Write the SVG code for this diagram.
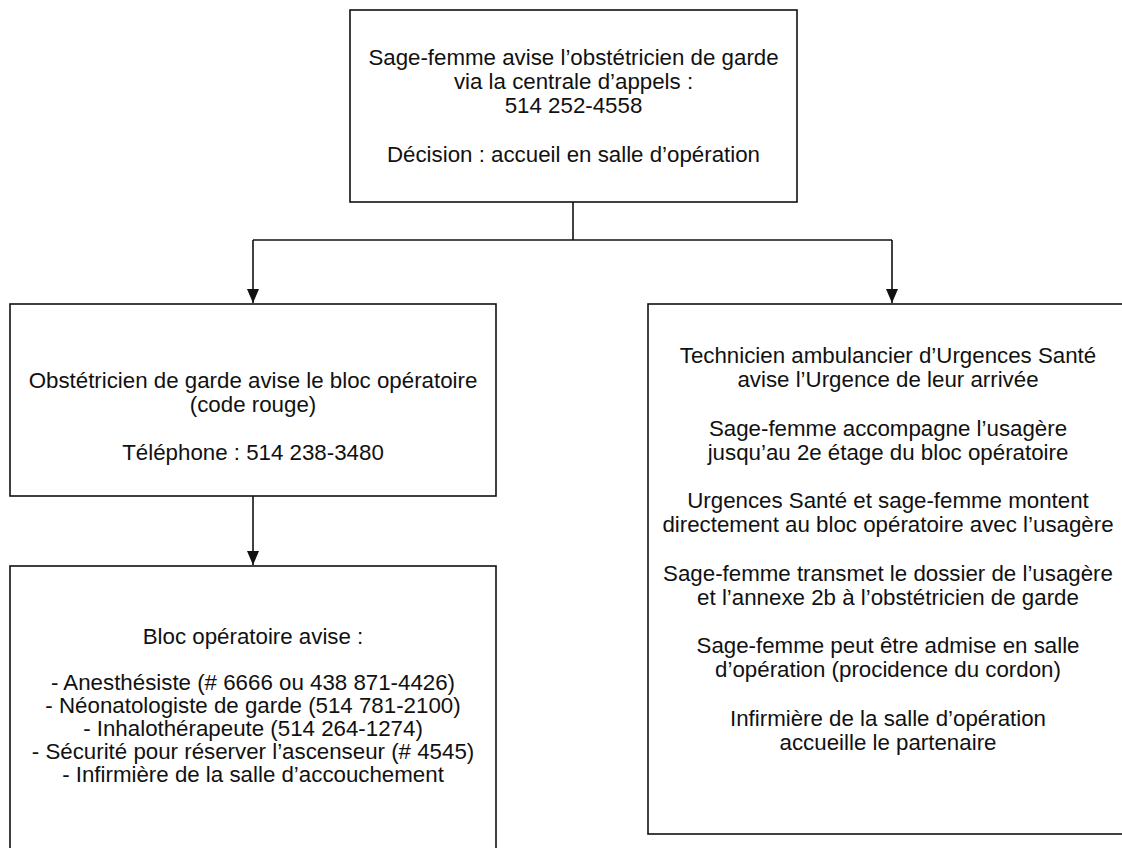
<svg xmlns="http://www.w3.org/2000/svg" width="1122" height="848" viewBox="0 0 1122 848">
<defs>
<style>
.box{fill:#fff;stroke:#111;stroke-width:1.6}
.t{font-family:"Liberation Sans",Arial,sans-serif;font-size:22.3px;fill:#111;text-anchor:middle}
.c{fill:none;stroke:#111;stroke-width:1.6}
</style>
<marker id="ah" markerWidth="14" markerHeight="14" refX="14" refY="7" orient="auto" markerUnits="userSpaceOnUse">
<path d="M0,1 L14,7 L0,13 Z" fill="#111"/>
</marker>
</defs>
<rect width="1122" height="848" fill="#fff"/>
<g id="connectors">
<path class="c" d="M573,202 V240"/>
<path class="c" d="M253,240 H892"/>
<path class="c" d="M253,240 V303" marker-end="url(#ah)"/>
<path class="c" d="M892,240 V303" marker-end="url(#ah)"/>
<path class="c" d="M253,496 V565" marker-end="url(#ah)"/>
</g>
<g id="top">
<rect class="box" x="350" y="10" width="447" height="192"/>
<text class="t" x="573.5" y="65">Sage-femme avise l’obstétricien de garde</text>
<text class="t" x="573.5" y="89">via la centrale d’appels :</text>
<text class="t" x="573.5" y="113">514 252-4558</text>
<text class="t" x="573.5" y="162">Décision : accueil en salle d’opération</text>
</g>
<g id="obstetricien">
<rect class="box" x="10" y="304" width="486" height="192"/>
<text class="t" x="253" y="388">Obstétricien de garde avise le bloc opératoire</text>
<text class="t" x="253" y="412">(code rouge)</text>
<text class="t" x="253" y="460">Téléphone : 514 238-3480</text>
</g>
<g id="bloc">
<rect class="box" x="10" y="566" width="486" height="310"/>
<text class="t" x="253" y="644">Bloc opératoire avise :</text>
<text class="t" x="253" y="690">- Anesthésiste (# 6666 ou 438 871-4426)</text>
<text class="t" x="253" y="713">- Néonatologiste de garde (514 781-2100)</text>
<text class="t" x="253" y="736">- Inhalothérapeute (514 264-1274)</text>
<text class="t" x="253" y="759">- Sécurité pour réserver l’ascenseur (# 4545)</text>
<text class="t" x="253" y="782">- Infirmière de la salle d’accouchement</text>
</g>
<g id="urgences">
<rect class="box" x="648" y="304" width="484" height="530"/>
<text class="t" x="888" y="363">Technicien ambulancier d’Urgences Santé</text>
<text class="t" x="888" y="387">avise l’Urgence de leur arrivée</text>
<text class="t" x="888" y="436">Sage-femme accompagne l’usagère</text>
<text class="t" x="888" y="460">jusqu’au 2e étage du bloc opératoire</text>
<text class="t" x="888" y="508">Urgences Santé et sage-femme montent</text>
<text class="t" x="888" y="532">directement au bloc opératoire avec l’usagère</text>
<text class="t" x="888" y="581">Sage-femme transmet le dossier de l’usagère</text>
<text class="t" x="888" y="605">et l’annexe 2b à l’obstétricien de garde</text>
<text class="t" x="888" y="653">Sage-femme peut être admise en salle</text>
<text class="t" x="888" y="677">d’opération (procidence du cordon)</text>
<text class="t" x="888" y="726">Infirmière de la salle d’opération</text>
<text class="t" x="888" y="750">accueille le partenaire</text>
</g>
</svg>
